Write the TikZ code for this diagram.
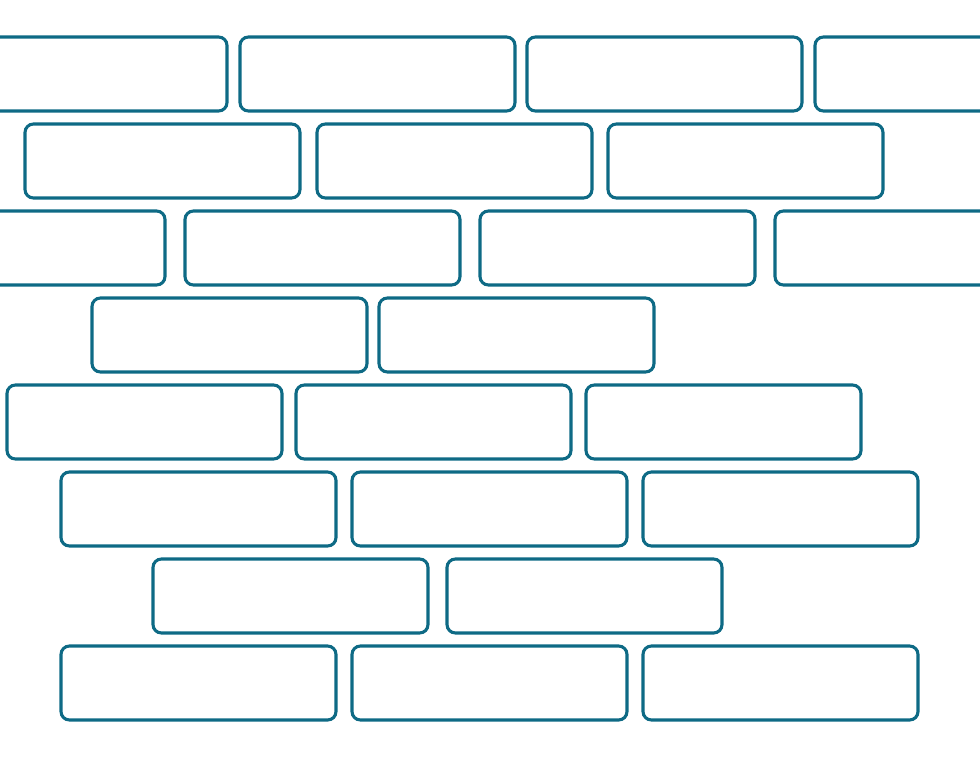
\documentclass[tikz,border=0pt]{standalone}
\definecolor{brickline}{HTML}{0E6A85}
\begin{document}
\begin{tikzpicture}[x=0.025cm, y=-0.025cm,
        brick/.style={draw=brickline, line width=2.2pt, rounded corners=6pt}
    ]
    \useasboundingbox (0,0) rectangle (980,757);
    \clip (0,0) rectangle (980,757);

    % Mattoni: riga per riga (x sinistra, y alto)
    \foreach \x/\y in {-48/37, 240/37, 527/37, 815/37,
                       25/124, 317/124, 608/124,
                       -110/211, 185/211, 480/211, 775/211,
                       92/298, 379/298,
                       7/385, 296/385, 586/385,
                       61/472, 352/472, 643/472,
                       153/559, 447/559,
                       61/646, 352/646, 643/646}
        \draw[brick] (\x,\y) rectangle ++(275,74);
\end{tikzpicture}
\end{document}
